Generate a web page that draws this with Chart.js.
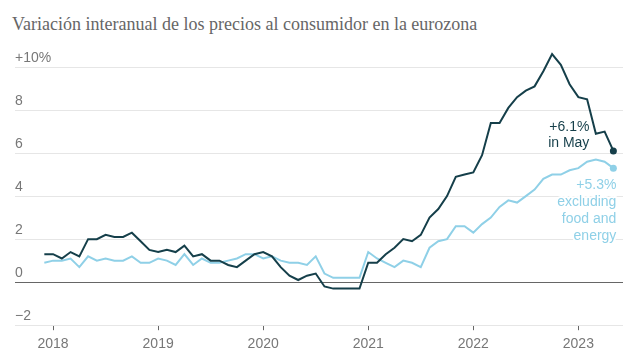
<!DOCTYPE html>
<html>
<head>
<meta charset="utf-8">
<script src="https://cdn.jsdelivr.net/npm/chart.js@4"></script>
<style>
  body { margin: 0; background: #fff; }
  #wrap { position: relative; width: 640px; height: 362px; }
  #title {
    position: absolute; left: 12px; top: 13px;
    font-family: "Liberation Serif", serif; font-size: 18px; line-height: 22px;
    color: #666; white-space: nowrap;
  }
  #chart { position: absolute; left: 0; top: 0; }
</style>
</head>
<body>
<div id="wrap">
  <div id="title">Variación interanual de los precios al consumidor en la eurozona</div>
  <canvas id="chart" width="640" height="362"></canvas>
</div>
<script>
// ---------- DATA ----------
const months = [
  '2017-12',
  '2018-01','2018-02','2018-03','2018-04','2018-05','2018-06','2018-07','2018-08','2018-09','2018-10','2018-11','2018-12',
  '2019-01','2019-02','2019-03','2019-04','2019-05','2019-06','2019-07','2019-08','2019-09','2019-10','2019-11','2019-12',
  '2020-01','2020-02','2020-03','2020-04','2020-05','2020-06','2020-07','2020-08','2020-09','2020-10','2020-11','2020-12',
  '2021-01','2021-02','2021-03','2021-04','2021-05','2021-06','2021-07','2021-08','2021-09','2021-10','2021-11','2021-12',
  '2022-01','2022-02','2022-03','2022-04','2022-05','2022-06','2022-07','2022-08','2022-09','2022-10','2022-11','2022-12',
  '2023-01','2023-02','2023-03','2023-04','2023-05'
];

// all items
const headline = [
  1.3,
  1.3, 1.1, 1.4, 1.2, 2.0, 2.0, 2.2, 2.1, 2.1, 2.3, 1.9, 1.5,
  1.4, 1.5, 1.4, 1.7, 1.2, 1.3, 1.0, 1.0, 0.8, 0.7, 1.0, 1.3,
  1.4, 1.2, 0.7, 0.3, 0.1, 0.3, 0.4, -0.2, -0.3, -0.3, -0.3, -0.3,
  0.9, 0.9, 1.3, 1.6, 2.0, 1.9, 2.2, 3.0, 3.4, 4.0, 4.9, 5.0,
  5.1, 5.9, 7.4, 7.4, 8.1, 8.6, 8.9, 9.1, 9.8, 10.6, 10.1, 9.2,
  8.6, 8.5, 6.9, 7.0, 6.1
];

// excluding food and energy
const core = [
  0.9,
  1.0, 1.0, 1.1, 0.7, 1.2, 1.0, 1.1, 1.0, 1.0, 1.2, 0.9, 0.9,
  1.1, 1.0, 0.8, 1.3, 0.8, 1.1, 0.9, 0.9, 1.0, 1.1, 1.3, 1.3,
  1.1, 1.2, 1.0, 0.9, 0.9, 0.8, 1.2, 0.4, 0.2, 0.2, 0.2, 0.2,
  1.4, 1.1, 0.9, 0.7, 1.0, 0.9, 0.7, 1.6, 1.9, 2.0, 2.6, 2.6,
  2.3, 2.7, 3.0, 3.5, 3.8, 3.7, 4.0, 4.3, 4.8, 5.0, 5.0, 5.2,
  5.3, 5.6, 5.7, 5.6, 5.3
];

const yearLabels = ['2018', '2019', '2020', '2021', '2022', '2023'];
const yTicks = [-2, 0, 2, 4, 6, 8, 10];
const yTickLabels = ['\u22122', '0', '2', '4', '6', '8', '+10%'];

const headlineNote = ['+6.1%', 'in May'];
const coreNote = ['+5.3%', 'excluding', 'food and', 'energy'];

// ---------- COLORS ----------
const darkColor = '#153f4a';
const lightColor = '#8fd0e7';
const textGray = '#777';

const yearTicks = yearLabels.map(y => months.indexOf(y + '-01'));
const toPoints = arr => arr.map((v, i) => ({ x: i, y: v }));
const last = months.length - 1;
const lastDot = ctx => ctx.dataIndex === last ? 3.5 : 0;

// ---------- END NOTES ----------
const endNotes = {
  id: 'endNotes',
  afterDatasetsDraw(chart) {
    const c = chart.ctx;
    const p1 = chart.getDatasetMeta(0).data[last];
    const p2 = chart.getDatasetMeta(1).data[last];
    c.save();
    c.font = '14px "Liberation Sans", Arial, sans-serif';
    c.textAlign = 'right';
    c.textBaseline = 'middle';
    c.lineJoin = 'round';

    c.fillStyle = darkColor;
    headlineNote.forEach((t, i) => {
      c.fillText(t, p1.x - 24, p1.y - 24 + i * 16);
    });

    coreNote.forEach((t, i) => {
      const y = p2.y + 17 + i * 17;
      c.strokeStyle = '#fff';
      c.lineWidth = 4;
      c.strokeText(t, p2.x + 3, y);
      c.fillStyle = lightColor;
      c.fillText(t, p2.x + 3, y);
    });
    c.restore();
  }
};

new Chart(document.getElementById('chart'), {
  type: 'line',
  data: {
    datasets: [{
      label: 'Headline',
      data: toPoints(headline),
      borderColor: darkColor,
      backgroundColor: darkColor,
      borderWidth: 2,
      pointRadius: lastDot,
      pointBorderWidth: 0,
      tension: 0,
      clip: false
    }, {
      label: 'Excluding food and energy',
      data: toPoints(core),
      borderColor: lightColor,
      backgroundColor: lightColor,
      borderWidth: 2,
      pointRadius: lastDot,
      pointBorderWidth: 0,
      tension: 0,
      clip: false
    }]
  },
  options: {
    responsive: false,
    animation: false,
    devicePixelRatio: 1,
    layout: { padding: { left: 15, right: 17, top: 67, bottom: 3 } },
    plugins: {
      legend: { display: false },
      tooltip: { enabled: false }
    },
    scales: {
      x: {
        type: 'linear',
        min: -3.35,
        max: 66.1,
        afterBuildTicks: scale => { scale.ticks = yearTicks.map(v => ({ value: v })); },
        grid: { drawOnChartArea: false, drawTicks: true, tickLength: 5, tickColor: '#666' },
        border: { display: false },
        ticks: {
          autoSkip: false,
          maxRotation: 0,
          padding: 6,
          color: textGray,
          font: { family: '"Liberation Sans", Arial, sans-serif', size: 14 },
          callback: v => yearLabels[yearTicks.indexOf(v)]
        }
      },
      y: {
        min: -2,
        max: 10,
        afterBuildTicks: scale => { scale.ticks = yTicks.map(v => ({ value: v })); },
        grid: {
          drawTicks: false,
          color: ctx => ctx.tick && ctx.tick.value === 0 ? '#666' : '#e6e6e6'
        },
        border: { display: false },
        ticks: {
          mirror: true,
          padding: 0,
          labelOffset: -9,
          color: textGray,
          font: { family: '"Liberation Sans", Arial, sans-serif', size: 14 },
          callback: v => yTickLabels[yTicks.indexOf(v)]
        }
      }
    }
  },
  plugins: [endNotes]
});
</script>
</body>
</html>
